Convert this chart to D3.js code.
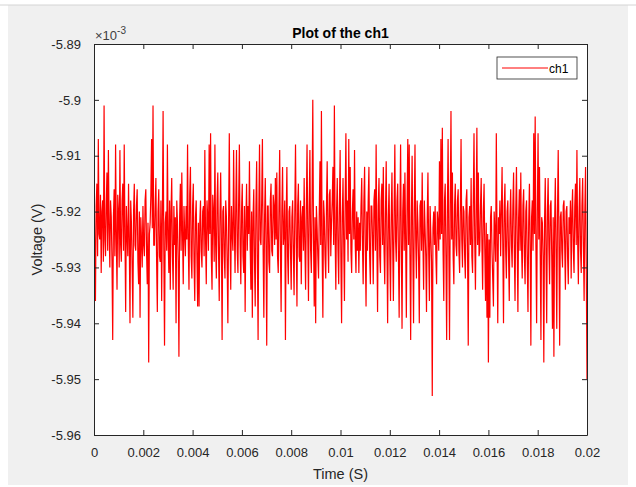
<!DOCTYPE html>
<html>
<head>
<meta charset="utf-8">
<script src="https://cdn.jsdelivr.net/npm/d3@7"></script>
<style>
    body { margin: 0; background: #ffffff; }
    svg text { font-family: "Liberation Sans", Arial, sans-serif; }
</style>
</head>
<body>
<svg id="plot"></svg>
<script>
const title = "Plot of the ch1";
const seriesName = "ch1";
const xLabel = "Time (S)";
const yLabel = "Voltage (V)";

const timeTicks = [0, 0.002, 0.004, 0.006, 0.008, 0.01, 0.012, 0.014, 0.016, 0.018, 0.02];
const timeTickLabels = ["0", "0.002", "0.004", "0.006", "0.008", "0.01", "0.012", "0.014", "0.016", "0.018", "0.02"];
const voltTicks = [-5.89, -5.9, -5.91, -5.92, -5.93, -5.94, -5.95, -5.96];
const voltTickLabels = ["-5.89", "-5.9", "-5.91", "-5.92", "-5.93", "-5.94", "-5.95", "-5.96"];
const timeRange = [0, 0.02];
const voltRange = [-5.96, -5.89];

// ch1 samples in units of 1e-3 V left to right
const ch1 = [
    -5.912, -5.926, -5.936, -5.919, -5.915, -5.928, -5.907, -5.924, -5.925, -5.917, -5.931, -5.920, -5.918, -5.929, -5.901, -5.925,
    -5.928, -5.919, -5.913, -5.927, -5.909, -5.923, -5.930, -5.918, -5.921, -5.929, -5.943, -5.921, -5.916, -5.928, -5.908, -5.925,
    -5.934, -5.917, -5.920, -5.930, -5.909, -5.926, -5.929, -5.918, -5.915, -5.927, -5.908, -5.924, -5.938, -5.919, -5.924, -5.928,
    -5.915, -5.925, -5.940, -5.918, -5.922, -5.930, -5.939, -5.920, -5.915, -5.926, -5.927, -5.919, -5.916, -5.929, -5.933, -5.920,
    -5.939, -5.921, -5.925, -5.930, -5.919, -5.926, -5.928, -5.918, -5.916, -5.927, -5.933, -5.922, -5.947, -5.924, -5.922, -5.917,
    -5.907, -5.923, -5.901, -5.926, -5.926, -5.919, -5.914, -5.929, -5.938, -5.920, -5.916, -5.928, -5.929, -5.918, -5.936, -5.921,
    -5.902, -5.927, -5.944, -5.922, -5.920, -5.927, -5.908, -5.925, -5.931, -5.918, -5.934, -5.920, -5.914, -5.928, -5.934, -5.919,
    -5.926, -5.921, -5.940, -5.918, -5.922, -5.929, -5.946, -5.921, -5.915, -5.927, -5.913, -5.924, -5.933, -5.919, -5.924, -5.928,
    -5.919, -5.925, -5.908, -5.926, -5.934, -5.917, -5.912, -5.928, -5.932, -5.919, -5.915, -5.929, -5.936, -5.921, -5.918, -5.928,
    -5.937, -5.922,
    -5.937, -5.922, -5.918, -5.927, -5.930, -5.920, -5.919, -5.928, -5.909, -5.925, -5.933, -5.918, -5.921, -5.927, -5.908, -5.924,
    -5.906, -5.928, -5.934, -5.917, -5.920, -5.929, -5.908, -5.926, -5.932, -5.918, -5.913, -5.927, -5.936, -5.921, -5.913, -5.925,
    -5.943, -5.920, -5.919, -5.928, -5.932, -5.918, -5.921, -5.929, -5.940, -5.922, -5.906, -5.925, -5.934, -5.919, -5.924, -5.927,
    -5.909, -5.923, -5.931, -5.919, -5.909, -5.927, -5.931, -5.918, -5.908, -5.926, -5.933, -5.920, -5.915, -5.928, -5.931, -5.919,
    -5.938, -5.922, -5.915, -5.927, -5.919, -5.924, -5.911, -5.926, -5.934, -5.920, -5.939, -5.921, -5.916, -5.929, -5.937, -5.919,
    -5.911, -5.928, -5.943, -5.920, -5.908, -5.925, -5.926, -5.918, -5.907, -5.927, -5.939, -5.921, -5.914, -5.926, -5.944, -5.919,
    -5.919, -5.929, -5.931, -5.918, -5.915, -5.927, -5.928, -5.917, -5.919, -5.926, -5.914, -5.925, -5.913, -5.928, -5.931, -5.919,
    -5.909, -5.927, -5.938, -5.920, -5.912, -5.926, -5.924, -5.918, -5.943, -5.922, -5.912, -5.928, -5.933, -5.920, -5.919, -5.927,
    -5.934, -5.921,
    -5.918, -5.927, -5.935, -5.920, -5.908, -5.925, -5.937, -5.919, -5.915, -5.928, -5.929, -5.918, -5.933, -5.921, -5.919, -5.927,
    -5.914, -5.926, -5.934, -5.920, -5.908, -5.924, -5.936, -5.919, -5.909, -5.927, -5.931, -5.918, -5.900, -5.925, -5.937, -5.921,
    -5.940, -5.919, -5.923, -5.928, -5.932, -5.920, -5.911, -5.926, -5.902, -5.927, -5.939, -5.918, -5.921, -5.928, -5.932, -5.919,
    -5.911, -5.925, -5.931, -5.917, -5.916, -5.928, -5.922, -5.918, -5.912, -5.926, -5.901, -5.924, -5.934, -5.920, -5.914, -5.927,
    -5.933, -5.919, -5.909, -5.928, -5.940, -5.921, -5.914, -5.926, -5.936, -5.918, -5.906, -5.925, -5.918, -5.929, -5.907, -5.924,
    -5.912, -5.927, -5.931, -5.920, -5.916, -5.925, -5.909, -5.926, -5.931, -5.920, -5.927, -5.921, -5.931, -5.922, -5.927, -5.919,
    -5.914, -5.926, -5.933, -5.918, -5.912, -5.927, -5.937, -5.920, -5.927, -5.918, -5.912, -5.928, -5.933, -5.919, -5.919, -5.925,
    -5.933, -5.918, -5.916, -5.927, -5.908, -5.925, -5.938, -5.919, -5.914, -5.928, -5.931, -5.918, -5.915, -5.926, -5.912, -5.927,
    -5.933, -5.920, -5.911, -5.926, -5.940, -5.921, -5.915, -5.928, -5.936, -5.921,
    -5.913, -5.926, -5.936, -5.920, -5.908, -5.925, -5.929, -5.918, -5.915, -5.928, -5.939, -5.921, -5.908, -5.926, -5.941, -5.920,
    -5.915, -5.927, -5.913, -5.925, -5.939, -5.919, -5.907, -5.926, -5.908, -5.928, -5.943, -5.921, -5.910, -5.927, -5.940, -5.920,
    -5.908, -5.925, -5.932, -5.918, -5.922, -5.929, -5.940, -5.919, -5.918, -5.927, -5.913, -5.925, -5.934, -5.918, -5.923, -5.928,
    -5.938, -5.921, -5.913, -5.927, -5.936, -5.919, -5.924, -5.929, -5.953, -5.923, -5.920, -5.926, -5.919, -5.928, -5.933, -5.920,
    -5.922, -5.927, -5.911, -5.925, -5.907, -5.924, -5.905, -5.927, -5.936, -5.918, -5.915, -5.928, -5.943, -5.920, -5.907, -5.926,
    -5.943, -5.919, -5.902, -5.925, -5.913, -5.928, -5.933, -5.919, -5.915, -5.926, -5.928, -5.918, -5.916, -5.927, -5.931, -5.920,
    -5.907, -5.925, -5.930, -5.919, -5.920, -5.928, -5.932, -5.918, -5.916, -5.927, -5.944, -5.921, -5.919, -5.926, -5.914, -5.928,
    -5.931, -5.918, -5.906, -5.925, -5.934, -5.920, -5.905, -5.926, -5.913, -5.928, -5.927, -5.919, -5.914, -5.926, -5.934, -5.920,
    -5.915, -5.927, -5.936, -5.922, -5.939, -5.924, -5.947, -5.925, -5.939, -5.921, -5.919, -5.927, -5.932,
    -5.937, -5.920, -5.924, -5.929, -5.906, -5.925, -5.940, -5.921, -5.924, -5.918, -5.928, -5.920, -5.912, -5.926, -5.940, -5.919,
    -5.915, -5.927, -5.932, -5.920, -5.918, -5.928, -5.936, -5.921, -5.916, -5.926, -5.930, -5.919, -5.913, -5.927, -5.936, -5.920,
    -5.912, -5.925, -5.938, -5.921, -5.916, -5.927, -5.913, -5.926, -5.932, -5.919, -5.916, -5.928, -5.933, -5.920, -5.918, -5.929,
    -5.938, -5.922, -5.915, -5.926, -5.944, -5.921, -5.918, -5.927, -5.906, -5.924, -5.903, -5.926, -5.940, -5.920, -5.906, -5.925,
    -5.912, -5.928, -5.943, -5.921, -5.922, -5.928, -5.947, -5.922, -5.914, -5.927, -5.940, -5.920, -5.914, -5.926, -5.933, -5.919,
    -5.918, -5.928, -5.941, -5.921, -5.946, -5.922, -5.914, -5.927, -5.941, -5.920, -5.909, -5.925, -5.944, -5.921, -5.920, -5.927,
    -5.930, -5.919, -5.918, -5.926, -5.934, -5.920, -5.919, -5.928, -5.933, -5.921, -5.924, -5.918, -5.932, -5.920, -5.916, -5.927,
    -5.931, -5.919, -5.915, -5.926, -5.909, -5.925, -5.933, -5.920, -5.914, -5.927, -5.931, -5.919, -5.914, -5.926, -5.936, -5.920,
    -5.912, -5.930, -5.950
];

const W = 636, H = 487;
const plotLeft = 94, plotRight = 587, plotTop = 44, plotBottom = 435;

let svg = d3.select("#plot")
    .attr("width", W)
    .attr("height", H);

// figure background
svg.append("rect")
    .attr("x", 8).attr("y", 5)
    .attr("width", 620).attr("height", 480)
    .attr("fill", "#f0f0f0");
svg.append("line")
    .attr("x1", 0).attr("x2", W)
    .attr("y1", 5).attr("y2", 5)
    .attr("stroke", "#d4d4d4");

let x = d3.scaleLinear().domain(timeRange).range([plotLeft, plotRight]);
let y = d3.scaleLinear().domain(voltRange).range([plotBottom, plotTop]);

svg.append("rect")
    .attr("x", plotLeft).attr("y", plotTop)
    .attr("width", plotRight - plotLeft).attr("height", plotBottom - plotTop)
    .attr("fill", "#ffffff");

svg.append("clipPath")
    .attr("id", "clip")
    .append("rect")
    .attr("x", plotLeft).attr("y", plotTop)
    .attr("width", plotRight - plotLeft).attr("height", plotBottom - plotTop);

let dt = (timeRange[1] - timeRange[0]) / (ch1.length - 1);
let points = ch1.map((v, i) => ({t: i * dt, v: v}));

svg.append("path")
    .datum(points)
    .attr("clip-path", "url(#clip)")
    .attr("fill", "none")
    .attr("stroke", "#ff0000")
    .attr("stroke-width", 1.2)
    .attr("d", d3.line().x(d => x(d.t)).y(d => y(d.v)));

function styleAxis(g) {
    g.select(".domain").attr("stroke", "#262626");
    g.selectAll(".tick line").attr("stroke", "#262626");
    g.selectAll(".tick text")
        .attr("fill", "#262626")
        .style("font-size", "13px");
}

svg.append("g")
    .attr("transform", "translate(0," + plotBottom + ")")
    .call(d3.axisBottom(x)
        .tickValues(timeTicks)
        .tickFormat((d, i) => timeTickLabels[i])
        .tickSizeInner(-5).tickSizeOuter(0).tickPadding(13))
    .call(styleAxis);

svg.append("g")
    .attr("transform", "translate(0," + plotTop + ")")
    .call(d3.axisTop(x)
        .tickValues(timeTicks)
        .tickFormat("")
        .tickSizeInner(-5).tickSizeOuter(0))
    .call(styleAxis);

svg.append("g")
    .attr("transform", "translate(" + plotLeft + ",0)")
    .call(d3.axisLeft(y)
        .tickValues(voltTicks)
        .tickFormat((d, i) => voltTickLabels[i])
        .tickSizeInner(-5).tickSizeOuter(0).tickPadding(13))
    .call(styleAxis);

svg.append("g")
    .attr("transform", "translate(" + plotRight + ",0)")
    .call(d3.axisRight(y)
        .tickValues(voltTicks)
        .tickFormat("")
        .tickSizeInner(-5).tickSizeOuter(0))
    .call(styleAxis);

// exponent label
let expo = svg.append("text")
    .attr("x", plotLeft + 1)
    .attr("y", plotTop - 4)
    .attr("fill", "#404040")
    .style("font-size", "13px");
expo.append("tspan").text("\u00d710");
expo.append("tspan")
    .attr("dy", -6)
    .style("font-size", "10px")
    .text("-3");

svg.append("text")
    .attr("x", (plotLeft + plotRight) / 2)
    .attr("y", 38)
    .attr("text-anchor", "middle")
    .attr("fill", "#000000")
    .style("font-size", "14px")
    .style("font-weight", "bold")
    .text(title);

svg.append("text")
    .attr("x", (plotLeft + plotRight) / 2)
    .attr("y", 479)
    .attr("text-anchor", "middle")
    .attr("fill", "#262626")
    .style("font-size", "14.5px")
    .text(xLabel);

svg.append("text")
    .attr("transform", "translate(42," + (plotTop + plotBottom) / 2 + ") rotate(-90)")
    .attr("text-anchor", "middle")
    .attr("fill", "#262626")
    .style("font-size", "14.5px")
    .text(yLabel);

// legend
let legend = svg.append("g")
    .attr("transform", "translate(497,57)");
legend.append("rect")
    .attr("width", 80).attr("height", 22)
    .attr("fill", "#ffffff")
    .attr("stroke", "#262626")
    .attr("stroke-width", 0.8);
legend.append("line")
    .attr("x1", 5).attr("x2", 51)
    .attr("y1", 11).attr("y2", 11)
    .attr("stroke", "#ff0000")
    .attr("stroke-width", 1);
legend.append("text")
    .attr("x", 52).attr("y", 15.5)
    .attr("fill", "#000000")
    .style("font-size", "12px")
    .text(seriesName);
</script>
</body>
</html>
